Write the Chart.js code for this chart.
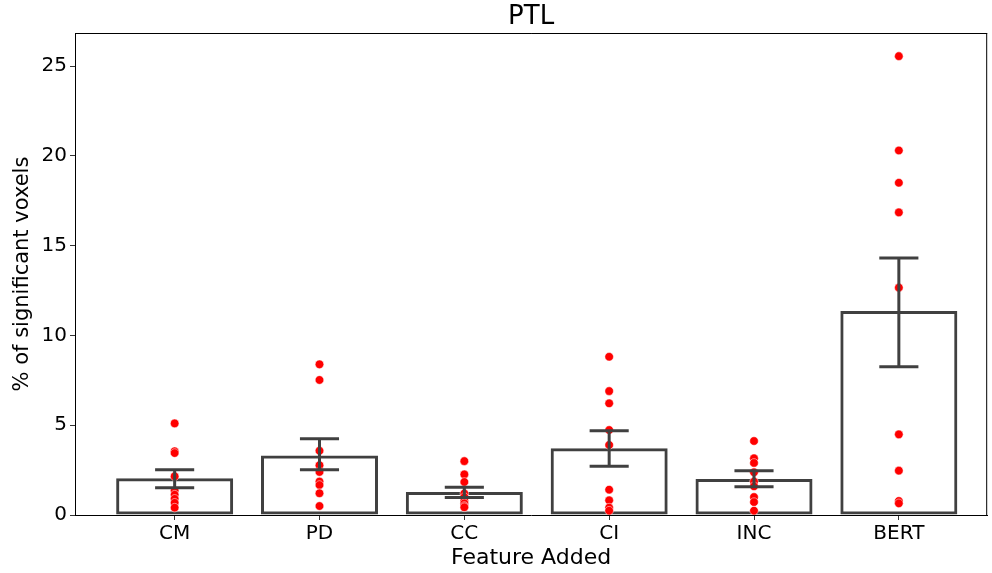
<!DOCTYPE html>
<html>
<head>
<meta charset="utf-8">
<script src="https://cdn.jsdelivr.net/npm/chart.js@4"></script>
<style>
  html, body { margin: 0; padding: 0; background: #fff; }
  #wrap { width: 992px; height: 573px; }
</style>
</head>
<body>
<div id="wrap"><canvas id="chart" width="992" height="573"></canvas></div>
<script>
// categories and bar values (means + 95% CI)
const categories = ['CM', 'PD', 'CC', 'CI', 'INC', 'BERT'];
const meanValues = [2.04, 3.32, 1.28, 3.71, 2.0, 11.36];
const ciLow = [1.52, 2.52, 0.98, 2.71, 1.58, 8.26];
const ciHigh = [2.52, 4.25, 1.54, 4.69, 2.47, 14.31];

// per-subject values (red dots)
const cmPoints = [5.1, 3.55, 3.45, 2.15, 1.35, 1.13, 0.9, 0.68, 0.41];
const pdPoints = [8.39, 7.52, 3.58, 2.77, 2.4, 1.86, 1.67, 1.21, 0.5];
const ccPoints = [3.0, 2.26, 1.84, 1.2, 1.0, 0.78, 0.65, 0.5, 0.43];
const ciPoints = [8.81, 6.9, 6.22, 4.73, 3.9, 1.41, 0.82, 0.41, 0.24];
const incPoints = [4.12, 3.16, 2.9, 2.38, 1.86, 1.6, 1.0, 0.72, 0.24];
const bertPoints = [25.55, 20.3, 18.5, 16.85, 12.66, 4.49, 2.47, 0.78, 0.65];
const subjectPoints = [cmPoints, pdPoints, ccPoints, ciPoints, incPoints, bertPoints];

const yTicks = [0, 5, 10, 15, 20, 25];

const edgeColor = '#404040';
const fontFamily = "'DejaVu Sans', sans-serif";

// build scatter points from the arrays
const dots = [];
subjectPoints.forEach((list, i) => {
    list.forEach(v => dots.push({ x: i, y: v }));
});

// error bars + frame + title
const extrasPlugin = {
    id: 'extras',
    afterDatasetsDraw(chart) {
        const ctx = chart.ctx;
        const xs = chart.scales.x;
        const ys = chart.scales.y;
        ctx.save();
        ctx.strokeStyle = edgeColor;
        ctx.lineWidth = 3;
        ctx.lineCap = 'butt';
        categories.forEach((c, i) => {
            const x = xs.getPixelForValue(i);
            const capL = xs.getPixelForValue(i - 0.135);
            const capR = xs.getPixelForValue(i + 0.135);
            const yLo = ys.getPixelForValue(ciLow[i]);
            const yHi = ys.getPixelForValue(ciHigh[i]);
            ctx.beginPath();
            ctx.moveTo(x, yLo); ctx.lineTo(x, yHi);
            ctx.moveTo(capL, yLo); ctx.lineTo(capR, yLo);
            ctx.moveTo(capL, yHi); ctx.lineTo(capR, yHi);
            ctx.stroke();
        });
        ctx.restore();
    },
    afterDraw(chart) {
        const ctx = chart.ctx;
        const a = chart.chartArea;
        ctx.save();
        ctx.strokeStyle = '#000';
        ctx.lineWidth = 1;
        ctx.beginPath();
        ctx.moveTo(a.left, a.top + 0.5); ctx.lineTo(a.right, a.top + 0.5);
        ctx.moveTo(a.right - 0.5, a.top); ctx.lineTo(a.right - 0.5, a.bottom);
        ctx.stroke();
        ctx.fillStyle = '#000';
        ctx.font = '26px ' + fontFamily;
        ctx.textAlign = 'center';
        ctx.textBaseline = 'middle';
        ctx.fillText('PTL', (a.left + a.right) / 2, 17);
        ctx.restore();
    }
};

new Chart(document.getElementById('chart'), {
    type: 'bar',
    data: {
        datasets: [
            {
                type: 'scatter',
                data: dots,
                order: 1,
                pointRadius: 4.3,
                backgroundColor: '#ff0000',
                borderColor: '#ffffff',
                borderWidth: 0.5
            },
            {
                type: 'bar',
                data: meanValues.map((v, i) => ({ x: i, y: v })),
                order: 2,
                barThickness: 117,
                inflateAmount: 0,
                backgroundColor: 'rgba(255,255,255,0)',
                borderColor: edgeColor,
                borderWidth: 3,
                borderSkipped: false
            }
        ]
    },
    options: {
        responsive: false,
        animation: false,
        layout: { padding: { top: 33, right: 1 } },
        plugins: {
            legend: { display: false },
            tooltip: { enabled: false },
            title: { display: false }
        },
        scales: {
            x: {
                type: 'linear',
                offset: false,
                min: -0.688,
                max: 5.61,
                afterBuildTicks(scale) {
                    scale.ticks = categories.map((c, i) => ({ value: i }));
                },
                afterFit(scale) { scale.height = 58; },
                grid: { offset: false, drawOnChartArea: false, drawTicks: true, tickLength: 5, color: '#333' },
                border: { display: true, color: '#000', width: 1 },
                ticks: {
                    color: '#000',
                    padding: 2,
                    maxRotation: 0,
                    font: { family: fontFamily, size: 20 },
                    callback: v => categories[v]
                },
                title: {
                    display: true,
                    text: 'Feature Added',
                    color: '#000',
                    font: { family: fontFamily, size: 22 },
                    padding: { top: 0, bottom: 2 }
                }
            },
            y: {
                min: 0,
                max: 26.84,
                afterBuildTicks(scale) {
                    scale.ticks = yTicks.map(v => ({ value: v }));
                },
                afterFit(scale) { scale.width = 75; },
                grid: { drawOnChartArea: false, drawTicks: true, tickLength: 5, color: '#333' },
                border: { display: true, color: '#000', width: 1 },
                ticks: {
                    color: '#000',
                    padding: 3,
                    font: { family: fontFamily, size: 20 }
                },
                title: {
                    display: true,
                    text: '% of significant voxels',
                    color: '#000',
                    font: { family: fontFamily, size: 21 },
                    padding: { top: 10, bottom: 0 }
                }
            }
        }
    },
    plugins: [extrasPlugin]
});
</script>
</body>
</html>
